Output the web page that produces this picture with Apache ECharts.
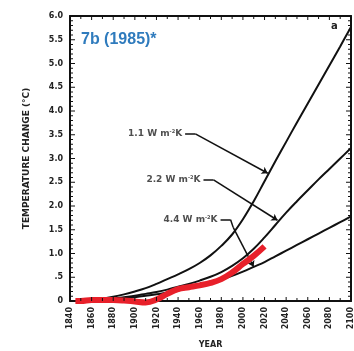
<!DOCTYPE html>
<html>
<head>
<meta charset="utf-8">
<script src="https://cdn.jsdelivr.net/npm/echarts@6/dist/echarts.min.js"></script>
<style>
  html, body { margin: 0; padding: 0; background: #fff; }
  #chart-container { width: 354px; height: 351px; }
</style>
</head>
<body>
<div id="chart-container"></div>
<script>
// model years and temperature change (deg C) for three climate sensitivities
const modelYears = [1850, 1860, 1870, 1880, 1890, 1900, 1910, 1920, 1930, 1940, 1950, 1960, 1970,
  1980, 1990, 2000, 2010, 2020, 2030, 2040, 2050, 2060, 2070, 2080, 2090, 2100];
const sens11 = [0, 0.02, 0.05, 0.09, 0.14, 0.2, 0.27, 0.36, 0.46, 0.56, 0.67, 0.8, 0.96,
  1.16, 1.4, 1.72, 2.1, 2.52, 2.94, 3.35, 3.76, 4.16, 4.56, 4.96, 5.36, 5.77];
const sens22 = [0, 0.01, 0.03, 0.05, 0.08, 0.11, 0.15, 0.19, 0.24, 0.3, 0.36, 0.43, 0.51,
  0.61, 0.74, 0.9, 1.1, 1.34, 1.6, 1.86, 2.1, 2.33, 2.56, 2.78, 3.0, 3.22];
const sens44 = [0, 0.01, 0.02, 0.04, 0.06, 0.08, 0.11, 0.14, 0.18, 0.22, 0.27, 0.32, 0.38,
  0.45, 0.53, 0.62, 0.72, 0.82, 0.94, 1.06, 1.18, 1.3, 1.42, 1.54, 1.66, 1.78];

// observed (red)
const obsYears = [1845, 1850, 1860, 1870, 1880, 1890, 1900, 1910, 1920, 1930, 1940, 1950,
  1960, 1970, 1980, 1990, 2000, 2010, 2020];
const obsTemp = [0, 0, 0.02, 0.02, 0.02, 0.01, -0.01, -0.03, 0.03, 0.15, 0.25, 0.29,
  0.33, 0.38, 0.46, 0.6, 0.78, 0.95, 1.15];

// pointer labels: text, then polyline points in [year, deg C]
const labelTexts = ['1.1 W m{s|-2}K', '2.2 W m{s|-2}K', '4.4 W m{s|-2}K'];
const pointerPaths = [
  [[1946.5, 3.52], [1956, 3.52], [2023, 2.69]],
  [[1963.5, 2.55], [1972.8, 2.55], [2032, 1.7]],
  [[1979.3, 1.71], [1988.6, 1.71], [1991, 1.55], [2009.9, 0.72]]
];

// frame ticks (every 10 years on x, every 0.1 deg on y)
const xTickYears = [1840, 1850, 1860, 1870, 1880, 1890, 1900, 1910, 1920, 1930, 1940, 1950, 1960,
  1970, 1980, 1990, 2000, 2010, 2020, 2030, 2040, 2050, 2060, 2070, 2080, 2090, 2100];
const yTickStep = 0.1;
const yTickLabels = {0: '0', 0.5: '.5'};

const zip = (xs, ys) => xs.map((x, i) => [x, ys[i]]);

const font = 'DejaVu Sans';
let myChart = echarts.init(document.getElementById('chart-container'));

// tick points kept inside the axis ranges: [year, temp, major?]
const xTickPts = xTickYears.map(y => [y, 0, y % 20 === 0 ? 1 : 0]);
let yTickPts = [];
for (let i = 0; i <= 60; i++) {
  yTickPts.push([1840, +(i * yTickStep).toFixed(1), i % 5 === 0 ? 1 : 0]);
}

const st = { stroke: '#111', lineWidth: 1 };
const drawXTicks = (params, api) => {
  const v = api.value(0), len = api.value(2) ? 4 : 3;
  const b = api.coord([v, 0]), t = api.coord([v, 6]);
  return { type: 'group', children: [
    { type: 'line', shape: { x1: b[0], y1: b[1], x2: b[0], y2: b[1] - len }, style: st },
    { type: 'line', shape: { x1: t[0], y1: t[1], x2: t[0], y2: t[1] + len }, style: st }
  ] };
};
const drawYTicks = (params, api) => {
  const v = api.value(1), len = api.value(2) ? 5 : 3;
  const l = api.coord([1840, v]), r = api.coord([2100, v]);
  return { type: 'group', children: [
    { type: 'line', shape: { x1: l[0], y1: l[1], x2: l[0] + len, y2: l[1] }, style: st },
    { type: 'line', shape: { x1: r[0], y1: r[1], x2: r[0] - len, y2: r[1] }, style: st }
  ] };
};

// segments for the pointer lines, arrow on the last one
let pointerSegs = [];
pointerPaths.forEach(path => {
  for (let i = 0; i < path.length - 1; i++) {
    const last = i === path.length - 2;
    pointerSegs.push({
      coords: [path[i], path[i + 1]],
      symbol: last ? ['none', 'arrow'] : ['none', 'none'],
      symbolSize: last ? [5, 6] : 0
    });
  }
});

const curve = (name, data) => ({
  name: name,
  type: 'line',
  data: data,
  smooth: 0.4,
  symbol: 'none',
  lineStyle: { color: '#111', width: 2 },
  z: 2
});

const tickSeries = (name, data, fn) => ({
  name: name,
  type: 'custom',
  renderItem: fn,
  data: data,
  encode: { x: 0, y: 1 },
  clip: false,
  silent: true,
  z: 6
});

const frameLine = () => ({ show: true, onZero: false, lineStyle: { color: '#111', width: 2 } });

var option = {
  animation: false,
  grid: { left: 70, right: 3, top: 16, bottom: 50, outerBoundsMode: 'none' },
  title: {
    text: '7b (1985)*',
    left: 76, top: 27,
    textStyle: { color: '#2f7bbd', fontSize: 16, fontWeight: 'bold', fontFamily: 'Liberation Sans' }
  },
  graphic: [{
    type: 'text', left: 331, top: 21,
    style: { text: 'a', fontSize: 10, fontWeight: 'bold', fontFamily: font, fill: '#222' }
  }],
  xAxis: [{
    type: 'value',
    min: 1840, max: 2100, interval: 20,
    name: 'YEAR', nameLocation: 'center', nameGap: 40,
    nameTextStyle: { fontSize: 8, fontWeight: 'bold', fontFamily: font, color: '#222' },
    axisLine: frameLine(),
    axisTick: { show: false },
    axisLabel: {
      rotate: 90, fontSize: 8, fontWeight: 'bold', fontFamily: font, color: '#222', margin: 6,
      formatter: v => String(v)
    },
    splitLine: { show: false }
  }, {
    type: 'value', position: 'top',
    min: 1840, max: 2100, interval: 20,
    axisLine: frameLine(),
    axisTick: { show: false },
    axisLabel: { show: false },
    splitLine: { show: false }
  }],
  yAxis: [{
    type: 'value',
    min: 0, max: 6, interval: 0.5,
    name: 'TEMPERATURE CHANGE (\u00B0C)', nameLocation: 'center', nameGap: 39, nameRotate: 90,
    nameTextStyle: { fontSize: 9, fontWeight: 'bold', fontFamily: font, color: '#222' },
    axisLine: frameLine(),
    axisTick: { show: false },
    axisLabel: {
      fontSize: 8, fontWeight: 'bold', fontFamily: font, color: '#222', margin: 7,
      formatter: v => yTickLabels[v] !== undefined ? yTickLabels[v] : v.toFixed(1)
    },
    splitLine: { show: false }
  }, {
    type: 'value', position: 'right',
    min: 0, max: 6, interval: 0.5,
    axisLine: frameLine(),
    axisTick: { show: false },
    axisLabel: { show: false },
    splitLine: { show: false }
  }],
  series: [
    tickSeries('xticks', xTickPts, drawXTicks),
    tickSeries('yticks', yTickPts, drawYTicks),
    curve('1.1', zip(modelYears, sens11)),
    curve('2.2', zip(modelYears, sens22)),
    curve('4.4', zip(modelYears, sens44)),
    {
      name: 'observed',
      type: 'line',
      data: zip(obsYears, obsTemp),
      smooth: 0.4,
      symbol: 'none',
      clip: false,
      lineStyle: { color: '#e8202a', width: 6, cap: 'butt' },
      z: 4
    },
    {
      name: 'pointers',
      type: 'lines',
      coordinateSystem: 'cartesian2d',
      data: pointerSegs,
      lineStyle: { color: '#111', width: 1.5, opacity: 1 },
      z: 3
    },
    {
      name: 'labels',
      type: 'scatter',
      symbolSize: 0,
      data: pointerPaths.map((p, i) => ({
        value: p[0],
        label: {
          show: true, position: 'left', distance: 3,
          formatter: labelTexts[i],
          fontSize: 9, fontWeight: 'bold', fontFamily: font, color: '#222',
          rich: { s: { fontSize: 5, fontWeight: 'bold', fontFamily: font, verticalAlign: 'top', color: '#222' } }
        }
      })),
      z: 5
    }
  ]
};

myChart.setOption(option);
</script>
</body>
</html>
